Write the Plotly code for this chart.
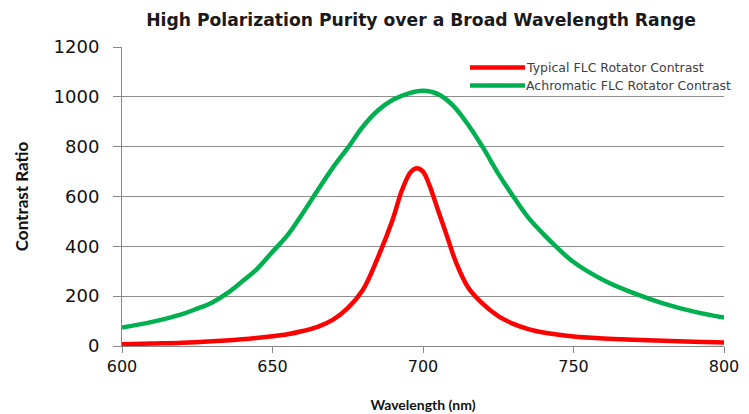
import plotly.graph_objects as go

wl_green = [600, 610, 620, 625, 630, 635, 640, 645, 650, 655, 660, 665, 670, 675, 680, 685, 690, 695, 700,
            705, 710, 715, 720, 725, 730, 735, 740, 745, 750, 760, 770, 780, 790, 800]
achromatic = [74, 97, 128, 150, 175, 212, 260, 311, 378, 445, 532, 625, 715, 795, 880, 945, 988, 1013, 1024,
              1011, 965, 888, 795, 692, 600, 515, 449, 390, 337, 264, 212, 170, 138, 114]

wl_red = [600, 610, 620, 630, 640, 650, 655, 660, 665, 670, 675, 680, 685, 690, 693, 696, 698,
          700, 702, 705, 708, 711, 715, 720, 725, 730, 735, 740, 750, 760, 770, 780, 790, 800]
typical = [7, 10, 13, 19, 27, 39, 47, 60, 77, 105, 152, 225, 355, 510, 625, 699, 713,
           700, 650, 545, 440, 335, 235, 168, 120, 89, 68, 54, 38, 30, 25, 21, 17, 14]

series_names = ["Typical FLC Rotator Contrast", "Achromatic FLC Rotator Contrast"]
series_colors = ["#FF0000", "#00B050"]
title_text = "High Polarization Purity over a Broad Wavelength Range"
x_title = "Wavelength (nm)"
y_title = "Contrast Ratio"
x_ticks = [600, 650, 700, 750, 800]
y_ticks = [0, 200, 400, 600, 800, 1000, 1200]

fig = go.Figure()
fig.add_trace(go.Scatter(x=wl_red, y=typical, mode="lines", name=series_names[0],
                         line=dict(color=series_colors[0], width=4.5, shape="spline", smoothing=1.0)))
fig.add_trace(go.Scatter(x=wl_green, y=achromatic, mode="lines", name=series_names[1],
                         line=dict(color=series_colors[1], width=4.5, shape="spline", smoothing=1.0)))

# legend drawn as line samples + text (longer samples than Plotly's built-in legend)
legend_y = [0.9315, 0.8713]
for name, color, ly in zip(series_names, series_colors, legend_y):
    fig.add_shape(type="line", xref="paper", yref="paper", x0=0.578, x1=0.6694, y0=ly, y1=ly,
                  line=dict(color=color, width=4.5))
    fig.add_annotation(text=name, xref="paper", yref="paper", x=0.6695, y=ly, xanchor="left",
                       yanchor="middle", showarrow=False, borderpad=0,
                       font=dict(family="DejaVu Sans", size=12.5, color="#404040"))

fig.update_layout(
    width=741, height=406,
    margin=dict(l=114, r=25, t=39, b=68, autoexpand=False),
    paper_bgcolor="white", plot_bgcolor="white",
    title=dict(text="<b>" + title_text + "</b>", x=0.5574, xanchor="center", y=0.9704, yanchor="middle",
               xref="container", yref="container",
               font=dict(family="DejaVu Sans", size=17.2, color="#1A1A1A")),
    showlegend=False,
    xaxis=dict(range=[600, 800], tickvals=x_ticks, showgrid=False, zeroline=False, automargin=False,
               showline=True, linecolor="#868686", linewidth=1,
               ticks="outside", ticklen=6, tickcolor="#868686",
               tickfont=dict(family="DejaVu Sans", size=16, color="#111111"),
               title=dict(text="<b>" + x_title + "</b>", standoff=24,
                          font=dict(family="Lato", size=14, color="#111111"))),
    yaxis=dict(range=[0, 1200], tickvals=y_ticks, showgrid=True, gridcolor="#8C8C8C", gridwidth=1,
               zeroline=False, showline=True, linecolor="#868686", linewidth=1, automargin=False,
               ticks="outside", ticklen=8, tickcolor="#868686", ticklabelstandoff=10,
               tickfont=dict(family="DejaVu Sans", size=18, color="#111111"),
               title=dict(text="<b>" + y_title + "</b>", standoff=20,
                          font=dict(family="Lato", size=17, color="#111111"))),
)

fig.write_html("out.html")
